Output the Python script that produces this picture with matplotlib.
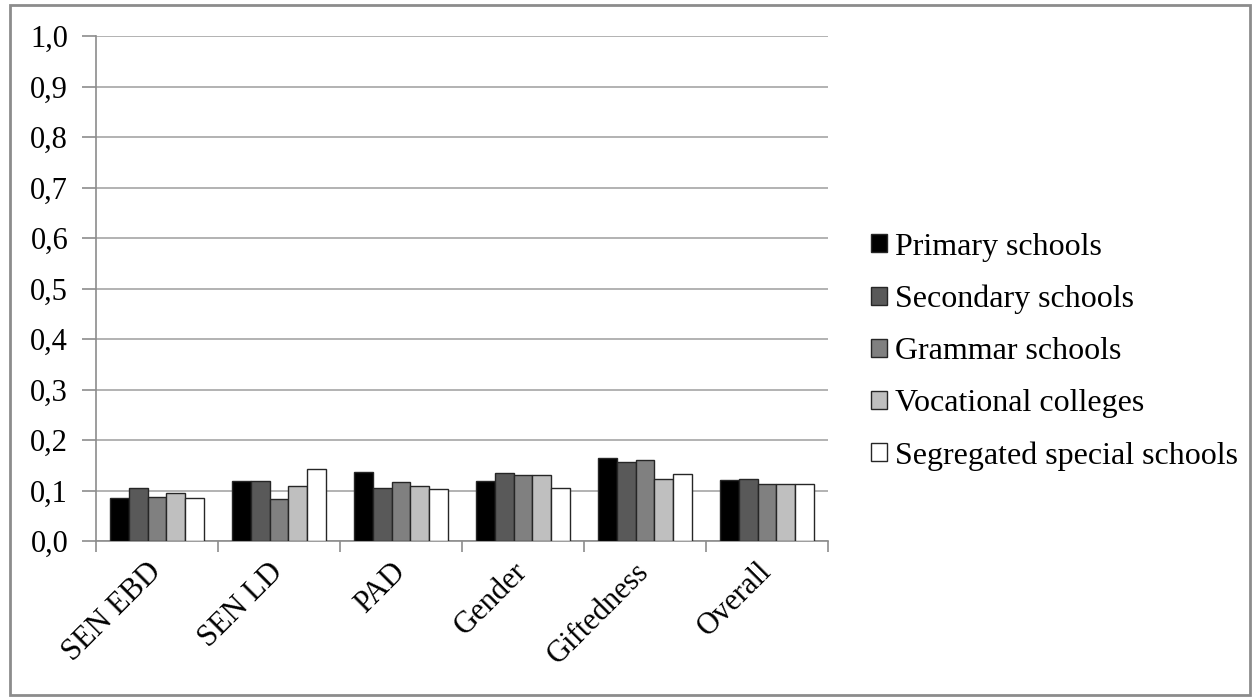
import numpy as np
import matplotlib.pyplot as plt
from matplotlib.patches import Rectangle
from matplotlib.ticker import FixedLocator

categories = ["SEN EBD", "SEN LD", "PAD", "Gender", "Giftedness", "Overall"]
series = ["Primary schools", "Secondary schools", "Grammar schools",
          "Vocational colleges", "Segregated special schools"]

primary = [0.086, 0.118, 0.137, 0.119, 0.164, 0.121]
secondary = [0.105, 0.118, 0.105, 0.134, 0.156, 0.123]
grammar = [0.088, 0.083, 0.116, 0.130, 0.161, 0.112]
vocational = [0.095, 0.108, 0.108, 0.131, 0.123, 0.112]
segregated = [0.085, 0.143, 0.102, 0.105, 0.133, 0.112]

yticks = np.round(np.arange(0, 1.01, 0.1), 1)
ytick_labels = [f"{v:.1f}".replace(".", ",") for v in yticks]

colors = ["#000000", "#595959", "#808080", "#bfbfbf", "#ffffff"]

plt.rcParams['font.family'] = ['Liberation Serif', 'DejaVu Serif']

fig = plt.figure(figsize=(12.54, 6.99), dpi=100)
ax = fig.add_axes([96/1254, 1-541/699, (828-96)/1254, (541-36)/699])

# outer frame round the whole chart
fig.patches.append(Rectangle((10/1254, 4/699), 1240/1254, 690/699,
                             transform=fig.transFigure, fill=False,
                             edgecolor="#8c8c8c", linewidth=2))

x = np.arange(len(categories))
w = 0.154
data = [primary, secondary, grammar, vocational, segregated]
for i, (vals, name) in enumerate(zip(data, series)):
    ax.bar(x + (i - 2) * w, vals, w, color=colors[i], edgecolor="#262626",
           linewidth=1, label=name, zorder=3)

ax.set_xlim(-0.5, len(categories) - 0.5)
ax.set_ylim(0, 1.0)
ax.set_yticks(yticks)
ax.set_yticklabels(ytick_labels, fontsize=22)
ax.yaxis.grid(True, color="#a6a6a6", linewidth=1.2, zorder=0)

ax.set_xticks(x)
ax.set_xticklabels(categories, rotation=45, ha="right", va="center",
                   rotation_mode="anchor", fontsize=22)
ax.xaxis.set_minor_locator(FixedLocator(np.arange(-0.5, len(categories), 1)))
ax.tick_params(axis="x", which="major", length=0, pad=19)
ax.tick_params(axis="x", which="minor", length=8, color="#8c8c8c", width=1.2)
ax.tick_params(axis="y", length=10, color="#8c8c8c", width=1.2, pad=10)

for s in ["top", "right"]:
    ax.spines[s].set_visible(False)
for s in ["left", "bottom"]:
    ax.spines[s].set_color("#8c8c8c")
    ax.spines[s].set_linewidth(1.2)

leg = ax.legend(loc="center left", bbox_to_anchor=(1.02, 0.375), frameon=False,
                fontsize=23, handlelength=0.5, handleheight=0.5,
                handletextpad=0.25, labelspacing=0.72)

fig.savefig("out.png", dpi=100)
